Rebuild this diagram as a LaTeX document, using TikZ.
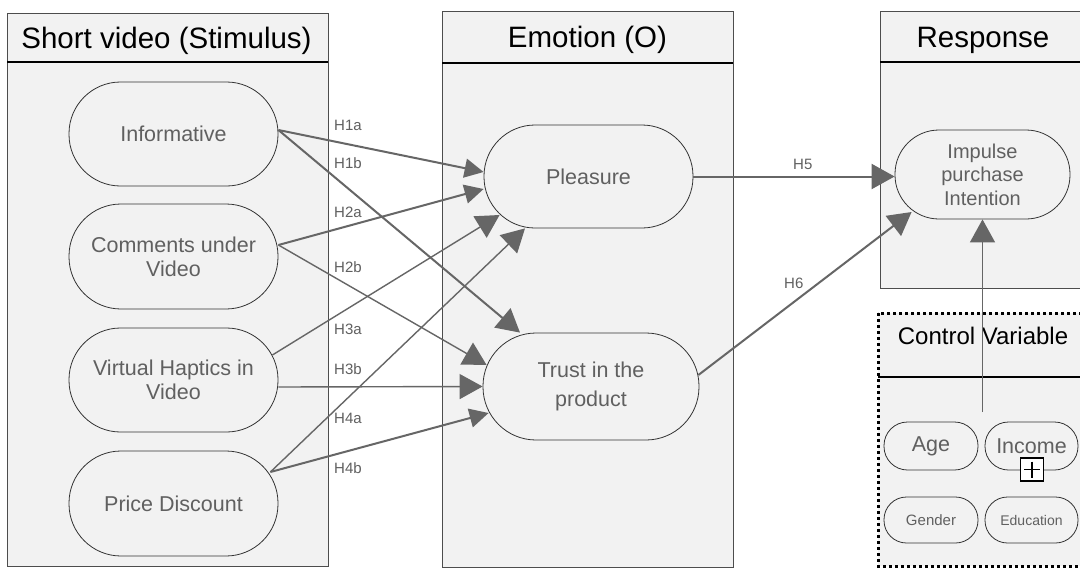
\documentclass[tikz,border=0pt]{standalone}
\usepackage{fontspec}
\setmainfont{Liberation Sans}
\usetikzlibrary{calc, positioning, arrows.meta}
\definecolor{panelfill}{HTML}{F2F2F2}
\definecolor{panelline}{HTML}{4D4D4D}
\definecolor{arrowgray}{HTML}{666666}
\definecolor{nodetext}{HTML}{606060}

\begin{document}
\begin{tikzpicture}[x=1pt, y=-1pt,
    panel/.style={draw=panelline, fill=panelfill, line width=0.9pt},
    ctrlbox/.style={draw=black, fill=panelfill, line width=3pt, dash pattern=on 3pt off 3pt},
    headline/.style={draw=black, line width=2pt},
    title/.style={anchor=base, font=\fontsize{29.5}{34}\selectfont},
    stadium/.style n args={3}{draw=black!80, line width=0.8pt, fill=panelfill, text=nodetext,
        align=center, inner sep=0pt, minimum width=#1, minimum height=#2, rounded corners=#3,
        font=\fontsize{21.5}{24}\selectfont},
    hyp/.style={draw=arrowgray, line width=1.4pt, -{Triangle[length=23pt,width=25pt]}},
    thickhyp/.style={hyp, line width=2pt},
    smalltip/.style={-{Triangle[length=19pt,width=19pt]}},
    hlabel/.style={text=nodetext, anchor=west, inner sep=0pt, font=\fontsize{15}{17}\selectfont}]
    \useasboundingbox (0,0) rectangle (1080,568);
    \fill[white] (0,0) rectangle (1080,568);
    \clip (0,0) rectangle (1080,568);

    % Stimulus
    \draw[panel] (7,13) rectangle (328,566);
    \draw[headline] (7,62) -- (328,62);
    \node[title] (stimtitle) at (166.5,48) {Short video (Stimulus)};
    \node[stadium={209pt}{104pt}{51.5pt}] (inform) at (173.5,134) {Informative};
    \node[stadium={209pt}{105pt}{52pt}] (comm) at (173.5,256.5) {Comments under\\Video};
    \node[stadium={209pt}{104pt}{51.5pt}] (haptic) at (173.5,380) {Virtual Haptics in\\Video};
    \node[stadium={209pt}{105pt}{52pt}] (price) at (173.5,503.5) {Price Discount};

    % Emotion
    \draw[panel] (442,11) rectangle (733,567);
    \draw[headline] (442,63) -- (733,63);
    \node[title] (emotitle) at (587.5,47) {Emotion (O)};
    \node[stadium={209pt}{103pt}{51pt}] (pleas) at (588.5,176.5) {Pleasure};
    \node[stadium={216pt}{107pt}{53pt}, font=\fontsize{21.5}{29}\selectfont] (trust) at (591,386.5) {Trust in the\\product};

    % Response
    \draw[panel] (880,11) rectangle (1090,288);
    \draw[headline] (880,62) -- (1090,62);
    \node[title] (resptitle) at (983,47) {Response};
    \node[stadium={175pt}{89pt}{44pt}, font=\fontsize{20}{23.5}\selectfont] (impul) at (982.5,174.5) {Impulse\\purchase\\Intention};

    % Control variables
    \draw[ctrlbox] (878,313) rectangle (1090,566);
    \draw[headline] (878,377) -- (1090,377);
    \node[anchor=base, font=\fontsize{24}{28}\selectfont] (ctrltitle) at (983,344) {Control Variable};
    \node[stadium={94pt}{48pt}{23.5pt}] (age) at (931,446) {Age};
    \node[stadium={93pt}{48pt}{23.5pt}] (income) at (1031.5,446) {Income};
    \node[stadium={94pt}{46pt}{22.5pt}, font=\fontsize{15}{18}\selectfont] (gender) at (931,520) {Gender};
    \node[stadium={93pt}{46pt}{22.5pt}, font=\fontsize{14}{17}\selectfont] (educ) at (1031.5,520) {Education};
    \node[draw=black, line width=1.3pt, fill=white, minimum size=23pt, inner sep=0pt] (plusbox) at (1032,469.5) {};
    \draw[line width=1.3pt] ($(plusbox.center)+(-8,0)$) -- ($(plusbox.center)+(8,0)$);
    \draw[line width=1.3pt] ($(plusbox.center)+(0,-8)$) -- ($(plusbox.center)+(0,8)$);

    % Hypotheses
    \draw[thickhyp, smalltip] ($(inform.east)+(0,-4)$) -- ($(pleas.west)+(0,-4.5)$);
    \draw[thickhyp] ($(inform.east)+(0,-4)$) -- ($(trust.north)+(-71,0)$);
    \draw[thickhyp, smalltip] ($(comm.east)+(0,-11.5)$) -- ($(pleas.west)+(0,12.5)$);
    \draw[hyp] ($(comm.east)+(0,-11.5)$) -- ($(trust.west)+(4,-21.5)$);
    \draw[hyp] ($(haptic.east)+(-6,-25)$) -- ($(pleas.west)+(16,38.5)$);
    \draw[hyp] ($(haptic.east)+(0,7)$) -- (trust.west);
    \draw[hyp] ($(price.east)+(-8,-31.5)$) -- ($(pleas.south)+(-63.5,0)$);
    \draw[thickhyp, smalltip] ($(price.east)+(-8,-31.5)$) -- ($(trust.west)+(6,26.5)$);
    \draw[thickhyp] (pleas.east) -- (pleas.east -| impul.west);
    \draw[thickhyp] ($(trust.east)+(-1,-11.5)$) -- ($(impul.west)+(17,37.5)$);
    \coordinate (ctrlsrc) at (982.5,412);
    \draw[hyp] (ctrlsrc) -- (impul.south);

    \node[hlabel] (l1a) at (334,125) {H1a};
    \node[hlabel] (l1b) at (334,163) {H1b};
    \node[hlabel] (l2a) at (334,212) {H2a};
    \node[hlabel] (l2b) at (334,267) {H2b};
    \node[hlabel] (l3a) at (334,329) {H3a};
    \node[hlabel] (l3b) at (334,369) {H3b};
    \node[hlabel] (l4a) at (334,418) {H4a};
    \node[hlabel] (l4b) at (334,468) {H4b};
    \node[hlabel] (l5) at (793,164) {H5};
    \node[hlabel] (l6) at (784,283) {H6};
\end{tikzpicture}
\end{document}
